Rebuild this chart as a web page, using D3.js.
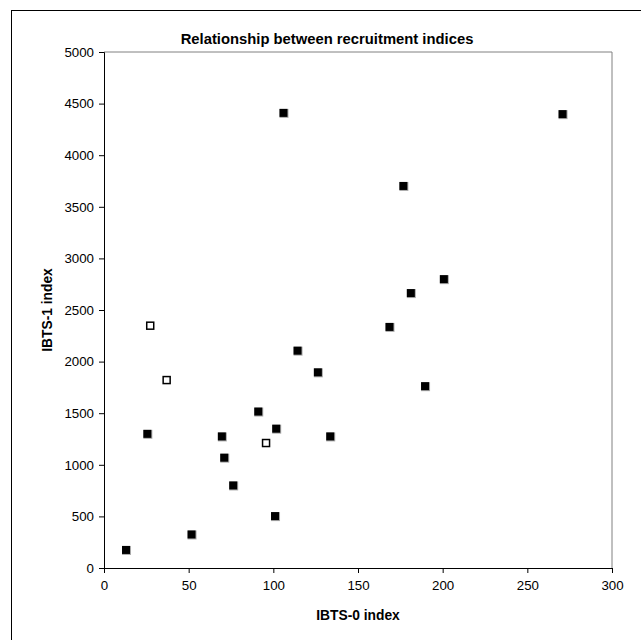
<!DOCTYPE html>
<html><head><meta charset="utf-8">
<script src="https://cdn.jsdelivr.net/npm/d3@7"></script>
<style>body{margin:0;background:#fff;overflow:hidden;} text{font-family:"Liberation Sans",Arial,sans-serif;}</style>
</head><body>
<svg id="c" width="641" height="640" style="display:block"></svg>
<script>
const filledX = [13, 51.7, 25.6, 69.6, 71, 76.3, 91.1, 101, 101.7, 106, 114.3, 126.3, 133.6, 168.6, 176.8, 181.2, 189.6, 200.7, 270.8];
const filledY = [175, 325, 1300, 1275, 1069, 800, 1516, 503, 1350, 4410, 2106, 1896, 1275, 2336, 3702, 2664, 1762, 2799, 4398];
const openX = [27.3, 37, 95.7];
const openY = [2348, 1821, 1211];
const xTicks = [0, 50, 100, 150, 200, 250, 300];
const yTicks = [0, 500, 1000, 1500, 2000, 2500, 3000, 3500, 4000, 4500, 5000];
const titleText = "Relationship between recruitment indices";
const xTitle = "IBTS-0 index";
const yTitle = "IBTS-1 index";

const svg = d3.select("#c");
const L = 104, R = 612, T = 52, B = 568;
const x = d3.scaleLinear().domain([0, 300]).range([L, R]);
const y = d3.scaleLinear().domain([0, 5000]).range([B, T]);

// outer frame (extends past the visible area on right/bottom)
svg.append("rect").attr("x", 11.5).attr("y", 10.5).attr("width", 900).attr("height", 900)
  .attr("fill", "none").attr("stroke", "#000").attr("stroke-width", 1);

// plot border (gray top/right)
svg.append("path").attr("d", `M${L},${T}H${R}V${B}`).attr("fill", "none").attr("stroke", "#808080").attr("stroke-width", 1);

const xa = svg.append("g").attr("transform", `translate(0,${B})`)
  .call(d3.axisBottom(x).tickValues(xTicks).tickSize(5).tickPadding(8).tickFormat(d3.format("d")));
const ya = svg.append("g").attr("transform", `translate(${L},0)`)
  .call(d3.axisLeft(y).tickValues(yTicks).tickSize(5).tickPadding(5).tickFormat(d3.format("d")));
[xa, ya].forEach(a => {
  a.selectAll("path,line").attr("stroke", "#000");
  a.selectAll("text").attr("font-size", 13.3).attr("font-family", "Liberation Sans, Arial, sans-serif").attr("fill", "#000");
});

// shadows
svg.append("g").selectAll("rect").data(filledX.map((d, i) => [d, filledY[i]])).join("rect")
  .attr("x", d => x(d[0]) - 4).attr("y", d => y(d[1]) - 4).attr("width", 9).attr("height", 9)
  .attr("fill", "#aaa");
svg.append("g").selectAll("rect").data(filledX.map((d, i) => [d, filledY[i]])).join("rect")
  .attr("x", d => x(d[0]) - 4).attr("y", d => y(d[1]) - 4).attr("width", 8).attr("height", 8)
  .attr("fill", "#000");
svg.append("g").selectAll("rect").data(openX.map((d, i) => [d, openY[i]])).join("rect")
  .attr("x", d => x(d[0]) - 3.5).attr("y", d => y(d[1]) - 3.5).attr("width", 7).attr("height", 7)
  .attr("fill", "#fff").attr("stroke", "#000").attr("stroke-width", 1.5);

svg.append("text").attr("x", 327).attr("y", 44).attr("text-anchor", "middle")
  .attr("font-size", 14.8).attr("font-weight", "bold").text(titleText);
svg.append("text").attr("x", (L + R) / 2).attr("y", 620).attr("text-anchor", "middle")
  .attr("font-size", 13.8).attr("font-weight", "bold").text(xTitle);
svg.append("text").attr("transform", `translate(52,${(T + B) / 2}) rotate(-90)`).attr("text-anchor", "middle")
  .attr("font-size", 13.8).attr("font-weight", "bold").text(yTitle);
</script>
</body></html>
